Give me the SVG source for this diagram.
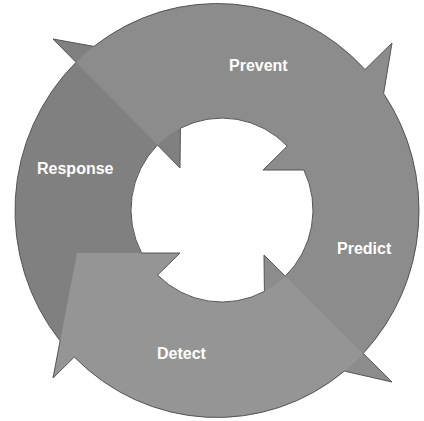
<svg xmlns="http://www.w3.org/2000/svg" width="424" height="421" viewBox="0 0 424 421">
  <style>
    .lbl { font-family: "Liberation Sans", Arial, sans-serif; font-size: 16px; font-weight: bold; fill: #ffffff; }
    .edge { fill: none; stroke: #555555; stroke-width: 1; stroke-linejoin: miter; }
  </style>
  <rect width="424" height="421" fill="#ffffff"/>
  <g id="arrow-response">
    <path fill="#808080" d="M 74.3,357 A 202 207 0 0 1 76,62.3 L 53,39 L 181,62 L 180,168 L 157.5,145 A 91 92 0 0 0 157.6,275.1 Z"/>
  </g>
  <g id="arrow-prevent">
    <path fill="#8c8c8c" d="M 76,62.3 A 202 207 0 0 1 365,69.5 L 392,43 L 371,170 L 263,170 L 287.3,146.1 A 91 92 0 0 0 157.5,145 Z"/>
  </g>
  <g id="arrow-predict">
    <path fill="#8c8c8c" d="M 365,69.5 A 202 207 0 0 1 363.2,353.4 L 392,382 L 265,353 L 264,255 L 285.3,276.2 A 91 92 0 0 0 287.3,146.1 Z"/>
  </g>
  <g id="arrow-detect">
    <path fill="#959595" d="M 363.2,353.4 A 202 207 0 0 1 74.3,357 L 53,378 L 77,253 L 180,253 L 157.6,275.1 A 91 92 0 0 0 285.3,276.2 Z"/>
  </g>
  <g id="outline">
    <path class="edge" d="M 76,62.3 L 53,39 L 94,46.4 A 202 207 0 0 1 365,69.5 L 392,43 L 383.6,93.5 A 202 207 0 0 1 363.2,353.4 L 392,382 L 344.4,371.1 A 202 207 0 0 1 74.3,357 L 53,378 L 60.1,340.9 A 202 207 0 0 1 76,62.3 Z"/>
    <path class="edge" d="M 157.5,145 L 180,168 L 180.4,128.2 A 91 92 0 0 1 287.3,146.1 L 263,170 L 303.9,170 A 91 92 0 0 1 285.3,276.2 L 264,255 L 264.4,291.4 A 91 92 0 0 1 157.6,275.1 L 180,253 L 141.6,253 A 91 92 0 0 1 157.5,145 Z"/>
  </g>
  <g id="label-prevent"><text class="lbl" x="229" y="71">Prevent</text></g>
  <g id="label-predict"><text class="lbl" x="337" y="254">Predict</text></g>
  <g id="label-detect"><text class="lbl" x="157" y="359">Detect</text></g>
  <g id="label-response"><text class="lbl" x="37" y="174">Response</text></g>
</svg>
